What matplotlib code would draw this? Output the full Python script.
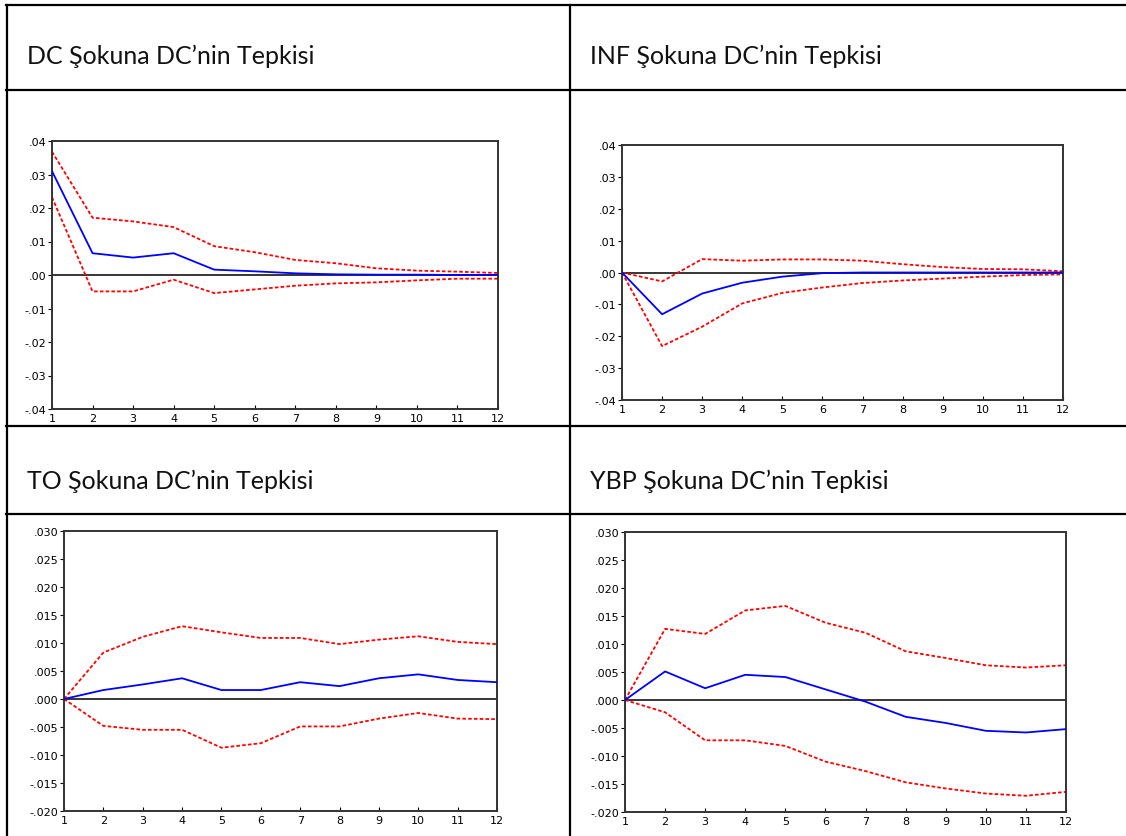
import numpy as np
import matplotlib
matplotlib.use('Agg')
import matplotlib.pyplot as plt
from matplotlib.lines import Line2D

W, H = 1126, 837

periods = list(range(1, 13))

titles = ['DC Şokuna DC\u2019nin Tepkisi', 'INF Şokuna DC\u2019nin Tepkisi',
          'TO Şokuna DC\u2019nin Tepkisi', 'YBP Şokuna DC\u2019nin Tepkisi']

# DC -> DC
dc_resp = [0.031, 0.0065, 0.0052, 0.0065, 0.0016, 0.0011, 0.0005, 0.0002, 0.0001, 0.0001, 0.0, 0.0]
dc_upper = [0.0368, 0.0171, 0.0160, 0.0143, 0.0086, 0.0068, 0.0045, 0.0035, 0.0020, 0.0013, 0.0010, 0.0006]
dc_lower = [0.0232, -0.0049, -0.0049, -0.0014, -0.0054, -0.0043, -0.0032, -0.0025, -0.0022, -0.0016, -0.0011, -0.0011]

# INF -> DC
inf_resp = [0.0, -0.0131, -0.0066, -0.0032, -0.0013, -0.0002, 0.0, 0.0, 0.0, 0.0, 0.0, 0.0]
inf_upper = [0.0, -0.0028, 0.0042, 0.0037, 0.0041, 0.0041, 0.0037, 0.0026, 0.0017, 0.0011, 0.0010, 0.0004]
inf_lower = [0.0, -0.0231, -0.0170, -0.0097, -0.0064, -0.0047, -0.0033, -0.0025, -0.0019, -0.0013, -0.0008, -0.0006]

# TO -> DC
to_resp = [0.0, 0.0016, 0.0026, 0.0037, 0.0016, 0.0016, 0.0030, 0.0023, 0.0037, 0.0044, 0.0034, 0.0030]
to_upper = [0.0, 0.0083, 0.0111, 0.0130, 0.0119, 0.0109, 0.0109, 0.0098, 0.0106, 0.0112, 0.0102, 0.0098]
to_lower = [0.0, -0.0048, -0.0055, -0.0055, -0.0087, -0.0079, -0.0049, -0.0049, -0.0035, -0.0025, -0.0035, -0.0036]

# YBP -> DC
ybp_resp = [0.0, 0.0051, 0.0021, 0.0045, 0.0041, 0.0019, -0.0003, -0.0030, -0.0041, -0.0055, -0.0058, -0.0052]
ybp_upper = [0.0, 0.0127, 0.0118, 0.0160, 0.0168, 0.0138, 0.0120, 0.0087, 0.0075, 0.0062, 0.0058, 0.0062]
ybp_lower = [0.0, -0.0022, -0.0072, -0.0072, -0.0082, -0.0110, -0.0127, -0.0147, -0.0158, -0.0167, -0.0171, -0.0164]

yticks_a = [0.04, 0.03, 0.02, 0.01, 0.0, -0.01, -0.02, -0.03, -0.04]
ylabels_a = ['.04', '.03', '.02', '.01', '.00', '-.01', '-.02', '-.03', '-.04']
yticks_b = [0.030, 0.025, 0.020, 0.015, 0.010, 0.005, 0.0, -0.005, -0.010, -0.015, -0.020]
ylabels_b = ['.030', '.025', '.020', '.015', '.010', '.005', '.000', '-.005', '-.010', '-.015', '-.020']


def px_rect(left, top, right, bottom):
    return [left / W, 1 - bottom / H, (right - left) / W, (bottom - top) / H]


fig = plt.figure(figsize=(W / 100, H / 100), dpi=100)
fig.patch.set_facecolor('white')

# table grid
for y in [6, 91, 427, 515]:
    fig.add_artist(Line2D([6 / W, 1], [1 - y / H, 1 - y / H], color='black', lw=1.6,
                          transform=fig.transFigure))
for x in [7, 570]:
    fig.add_artist(Line2D([x / W, x / W], [1 - 6 / H, 0], color='black', lw=1.6,
                          transform=fig.transFigure))

# header texts
title_pos = [(27, 64), (590, 64), (27, 489), (590, 489)]
for t, (x, y) in zip(titles, title_pos):
    fig.text(x / W, 1 - y / H, t, fontsize=18, family='Lato', color='#111111',
             ha='left', va='baseline')

panels = [
    (px_rect(52, 142, 498, 410), dc_resp, dc_upper, dc_lower, (-0.04, 0.04), yticks_a, ylabels_a),
    (px_rect(622, 146, 1063, 401), inf_resp, inf_upper, inf_lower, (-0.04, 0.04), yticks_a, ylabels_a),
    (px_rect(64, 532, 497, 812), to_resp, to_upper, to_lower, (-0.020, 0.030), yticks_b, ylabels_b),
    (px_rect(625, 533, 1066, 813), ybp_resp, ybp_upper, ybp_lower, (-0.020, 0.030), yticks_b, ylabels_b),
]

for rect, resp, up, lo, ylim, yt, yl in panels:
    ax = fig.add_axes(rect)
    ax.axhline(0, color='black', lw=1.1, zorder=1)
    ax.plot(periods, up, color='#ff0000', lw=1.3, ls=(0, (2, 1.2)), zorder=2)
    ax.plot(periods, lo, color='#ff0000', lw=1.3, ls=(0, (2, 1.2)), zorder=2)
    ax.plot(periods, resp, color='#0000ff', lw=1.3, zorder=3)
    ax.set_xlim(1, 12)
    ax.set_ylim(*ylim)
    ax.set_xticks(periods)
    ax.set_xticklabels([str(p) for p in periods])
    ax.set_yticks(yt)
    ax.set_yticklabels(yl)
    ax.tick_params(axis='x', direction='in', length=3, pad=3, labelsize=8)
    ax.tick_params(axis='y', direction='out', length=3, pad=1, labelsize=8)
    for s in ax.spines.values():
        s.set_linewidth(1.4)
        s.set_color('#333333')

fig.savefig('out.png', dpi=100)
